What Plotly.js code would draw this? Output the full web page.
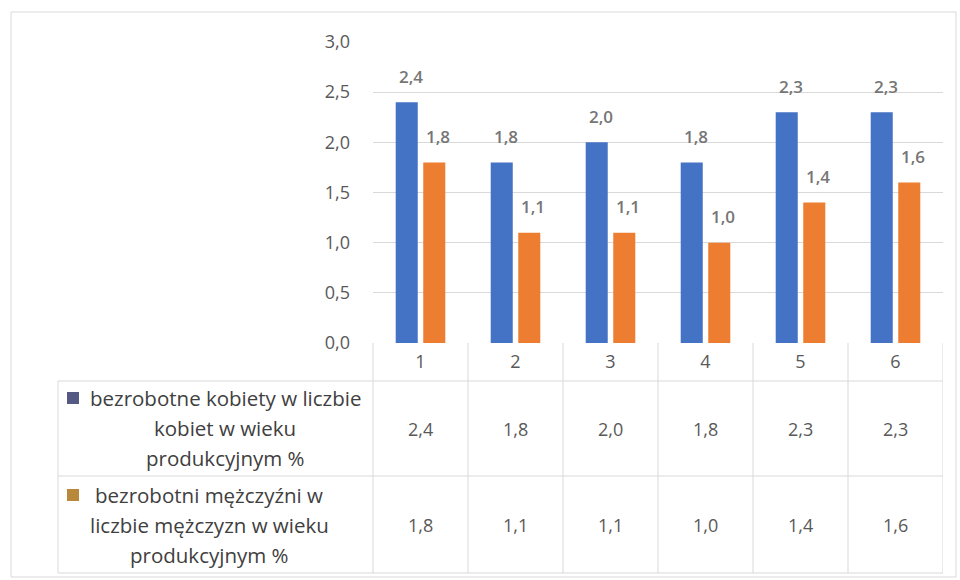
<!DOCTYPE html>
<html>
<head>
<meta charset="utf-8">
<script src="https://cdn.plot.ly/plotly-3.0.1.min.js"></script>
<style>
html,body{margin:0;padding:0;background:#fff;}
#chart{width:960px;height:580px;}
</style>
</head>
<body>
<div id="chart"></div>
<script>
const categories = ["1", "2", "3", "4", "5", "6"];
const women = [2.4, 1.8, 2.0, 1.8, 2.3, 2.3];
const men = [1.8, 1.1, 1.1, 1.0, 1.4, 1.6];
const womenLabelLines = ["bezrobotne kobiety w liczbie", "kobiet w wieku", "produkcyjnym %"];
const menLabelLines = ["bezrobotni mężczyźni w", "liczbie mężczyzn w wieku", "produkcyjnym %"];

const FONT = "Open Sans, Noto Sans, sans-serif";
const BLUE = "#4472C4";
const ORANGE = "#ED7D31";
const TXT = "#595959";
const GRID = "#D9D9D9";

// plot area in pixels
const L = 373, R = 943, T = 42, B = 343;
const W = R - L, H = B - T;
const px = v => (v - L) / W;
const py = v => (B - v) / H;
const fmt = v => v.toFixed(1).replace(".", ",");

const traces = [
  {type: "bar", x: categories, y: women, name: womenLabelLines.join(" "),
   marker: {color: BLUE}, hoverinfo: "skip"},
  {type: "bar", x: categories, y: men, name: menLabelLines.join(" "),
   marker: {color: ORANGE}, hoverinfo: "skip"}
];

const shapes = [];
const annotations = [];
const line = (x0, y0, x1, y1, xref) => shapes.push({type: "line", xref: xref || "paper", yref: "paper",
  x0: x0, y0: y0, x1: x1, y1: y1, line: {color: GRID, width: 1}, layer: "below"});

// outer chart border
shapes.push({type: "rect", xref: "paper", yref: "paper", x0: px(11), x1: px(956), y0: py(12), y1: py(577),
  line: {color: "#D9D9D9", width: 1}, layer: "below"});

// data table grid
const rowTop = 343, rowHead = 381, rowMid = 476, rowBot = 573, tblLeft = 58;
line(px(L), py(rowTop), px(L), py(rowBot));
for (let i = 0; i < categories.length; i++) {
  line(i + 0.5, py(rowTop), i + 0.5, py(rowBot), "x");
}
line(px(tblLeft), py(rowHead), 1, py(rowHead));
line(px(tblLeft), py(rowMid), 1, py(rowMid));
line(px(tblLeft), py(rowBot), 1, py(rowBot));
line(px(tblLeft), py(rowHead), px(tblLeft), py(rowBot));

// bar value labels and table values
const off = 13.5;
const LBL = {family: FONT, size: 17, color: "#767676", weight: 600};
const VAL = {family: FONT, size: 18, color: TXT};
categories.forEach((c, i) => {
  annotations.push({x: i, y: women[i], xref: "x", yref: "y", text: fmt(women[i]), showarrow: false,
    xshift: -off + 4, yshift: 26, font: LBL});
  annotations.push({x: i, y: men[i], xref: "x", yref: "y", text: fmt(men[i]), showarrow: false,
    xshift: off + 4, yshift: 26, font: LBL});
  annotations.push({x: i, xref: "x", y: py(429), yref: "paper", yanchor: "middle", text: fmt(women[i]),
    showarrow: false, font: VAL});
  annotations.push({x: i, xref: "x", y: py(525), yref: "paper", yanchor: "middle", text: fmt(men[i]),
    showarrow: false, font: VAL});
});

// row headers (legend keys + series names)
const rowLines = [[womenLabelLines, 225, [398, 428, 458], "#555A85", 392],
                  [menLabelLines, 209, [495, 525, 555], "#B8893A", 489]];
rowLines.forEach(([lines, cx, ys, kc, ky]) => {
  lines.forEach((t, j) => {
    annotations.push({x: px(cx), y: py(ys[j]), xref: "paper", yref: "paper", text: t, showarrow: false,
      xanchor: "center", yanchor: "middle", font: {family: FONT, size: 20.5, color: "#404040"}});
  });
  shapes.push({type: "rect", xref: "paper", yref: "paper", x0: px(67), x1: px(79), y0: py(ky), y1: py(ky + 12),
    fillcolor: kc, line: {width: 0}});
});

const layout = {
  width: 960, height: 580,
  margin: {l: L, r: 960 - R, t: T, b: 580 - B},
  paper_bgcolor: "#fff", plot_bgcolor: "#fff",
  separators: ", ",
  showlegend: false,
  barmode: "group", bargap: 0.42, bargroupgap: 0.2,
  font: {family: FONT, size: 16, color: TXT},
  xaxis: {type: "category", range: [-0.5, 5.5], showgrid: false, zeroline: false, showline: false,
    ticks: "", tickfont: {family: FONT, size: 18, color: TXT}, ticklabelstandoff: 6, fixedrange: true},
  yaxis: {range: [0, 3], dtick: 0.5, tick0: 0, tickformat: ".1f", showgrid: true, gridcolor: GRID,
    gridwidth: 1, zeroline: false, showline: false, ticks: "", ticklabelstandoff: 22,
    tickfont: {family: FONT, size: 18, color: TXT}, fixedrange: true},
  shapes: shapes,
  annotations: annotations
};

Plotly.newPlot("chart", traces, layout, {staticPlot: true, displayModeBar: false});
</script>
</body>
</html>
